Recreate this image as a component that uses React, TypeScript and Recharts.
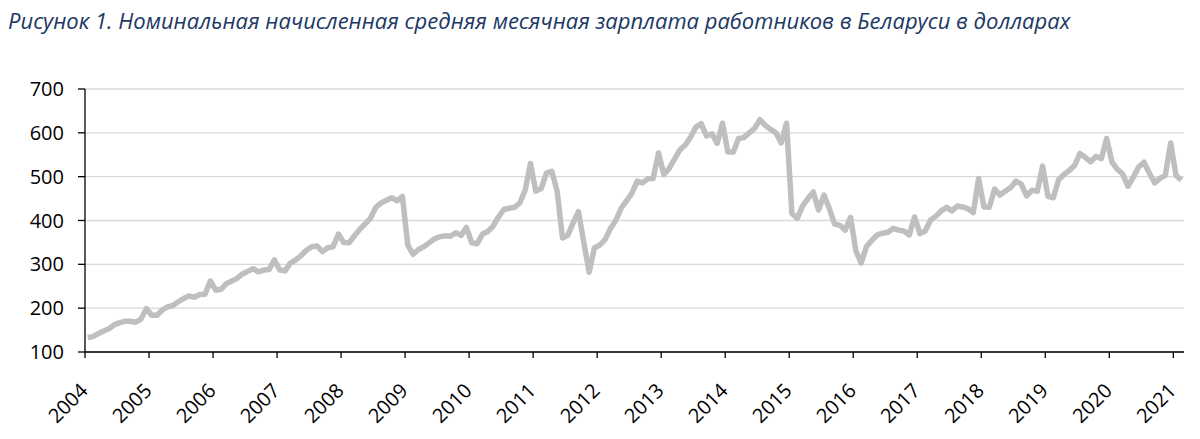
import React from "react"
import { CartesianGrid, Line, LineChart, XAxis, YAxis } from "recharts"

// monthly average nominal wage, USD
const W2004 = [133, 135, 142, 148, 153, 162, 167, 170, 170, 168, 175, 199]
const W2005 = [184, 184, 196, 203, 206, 215, 222, 228, 225, 231, 232, 262]
const W2006 = [241, 243, 256, 262, 268, 278, 284, 290, 283, 287, 288, 310]
const W2007 = [287, 285, 303, 310, 320, 332, 340, 342, 329, 338, 340, 369]
const W2008 = [350, 349, 365, 380, 392, 405, 430, 440, 446, 452, 445, 455]
const W2009 = [344, 323, 334, 340, 349, 358, 363, 365, 364, 372, 366, 384]
const W2010 = [349, 347, 369, 375, 387, 408, 425, 428, 430, 440, 469, 530]
const W2011 = [467, 473, 508, 512, 467, 360, 366, 395, 420, 350, 282, 338]
const W2012 = [344, 357, 382, 400, 428, 445, 462, 490, 486, 495, 496, 554]
const W2013 = [505, 519, 540, 561, 572, 590, 613, 621, 593, 598, 576, 622]
const W2014 = [556, 556, 587, 589, 600, 610, 630, 617, 608, 600, 577, 622]
const W2015 = [416, 405, 433, 450, 465, 424, 458, 428, 392, 389, 378, 407]
const W2016 = [330, 303, 341, 355, 367, 371, 373, 382, 378, 376, 367, 408]
const W2017 = [370, 376, 401, 410, 422, 430, 422, 433, 431, 427, 418, 496]
const W2018 = [431, 430, 472, 458, 467, 475, 490, 483, 456, 469, 467, 524]
const W2019 = [455, 452, 493, 505, 514, 526, 553, 544, 534, 546, 541, 587]
const W2020 = [533, 517, 506, 478, 499, 522, 533, 508, 486, 496, 503, 577]
const W2021 = [503, 492]

const FIRST_YEAR = 2004
const YEARS = [
  2004, 2005, 2006, 2007, 2008, 2009, 2010, 2011, 2012, 2013, 2014, 2015, 2016,
  2017, 2018, 2019, 2020, 2021,
]
const Y_TICKS = [100, 200, 300, 400, 500, 600, 700]

const TITLE =
  "Рисунок 1. Номинальная начисленная средняя месячная зарплата работников в Беларуси в долларах"

const months = [
  ...W2004, ...W2005, ...W2006, ...W2007, ...W2008, ...W2009, ...W2010,
  ...W2011, ...W2012, ...W2013, ...W2014, ...W2015, ...W2016, ...W2017,
  ...W2018, ...W2019, ...W2020, ...W2021,
]

// each month sits in the middle of its slot, year ticks on slot borders
const data = months.map((wage, i) => ({ pos: i + 0.5, wage }))
const xTicks = YEARS.map((y) => (y - FIRST_YEAR) * 12)

const FONT = "'Open Sans', 'Noto Sans', sans-serif"

function YearTick(props: any) {
  const { x, y, payload } = props
  const label = FIRST_YEAR + payload.value / 12
  const ax = x + 4
  const ay = y + 32
  return (
    <text
      x={ax}
      y={ay}
      transform={`rotate(-45, ${ax}, ${ay})`}
      textAnchor="end"
      fontSize={20}
      fontFamily={FONT}
      fill="#000"
    >
      {label}
    </text>
  )
}

export default function App() {
  return (
    <div
      style={{
        position: "absolute",
        left: 0,
        top: 0,
        width: 1200,
        height: 439,
        background: "#fff",
      }}
    >
      <div
        style={{
          position: "absolute",
          left: 8,
          top: 5,
          fontFamily: FONT,
          fontStyle: "italic",
          fontSize: 22,
          lineHeight: "30px",
          color: "#203864",
          whiteSpace: "nowrap",
        }}
      >
        {TITLE}
      </div>
      <LineChart
        width={1200}
        height={439}
        data={data}
        margin={{ top: 89, right: 16, left: 0, bottom: 7 }}
      >
        <CartesianGrid
          horizontal
          vertical={false}
          stroke="#d9d9d9"
          strokeWidth={1.3}
        />
        <XAxis
          dataKey="pos"
          type="number"
          domain={[0, 206]}
          ticks={xTicks}
          interval={0}
          height={80}
          tickSize={6}
          tick={<YearTick />}
          axisLine={{ stroke: "#000", strokeWidth: 1.3 }}
          tickLine={{ stroke: "#000", strokeWidth: 1.3 }}
        />
        <YAxis
          type="number"
          domain={[100, 700]}
          ticks={Y_TICKS}
          interval={0}
          width={85}
          tickSize={7}
          tickMargin={14}
          tick={{ fontSize: 20, fontFamily: FONT, fill: "#000" }}
          axisLine={{ stroke: "#000", strokeWidth: 1.3 }}
          tickLine={{ stroke: "#000", strokeWidth: 1.3 }}
        />
        <Line
          type="linear"
          dataKey="wage"
          stroke="#bfbfbf"
          strokeWidth={5.5}
          strokeLinejoin="round"
          dot={false}
          activeDot={false}
          isAnimationActive={false}
        />
      </LineChart>
    </div>
  )
}
